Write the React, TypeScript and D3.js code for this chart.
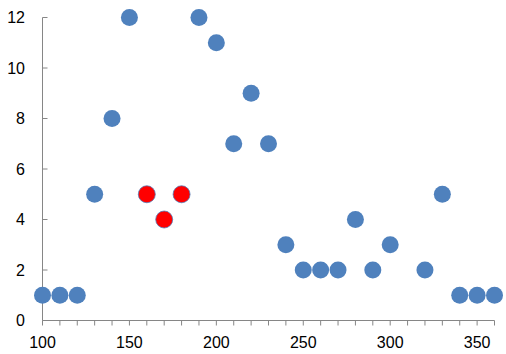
import React, { useEffect, useRef } from 'react'
import * as d3 from 'd3'

// x values and y values of the scatter points
const xValues = [100, 110, 120, 130, 140, 150, 160, 170, 180, 190, 200, 210, 220, 230, 240, 250, 260, 270, 280, 290, 300, 320, 330, 340, 350, 360]
const yValues = [1, 1, 1, 5, 8, 12, 5, 4, 5, 12, 11, 7, 9, 7, 3, 2, 2, 2, 4, 2, 3, 2, 5, 1, 1, 1]
// points drawn in red
const highlighted = [160, 170, 180]
const xTickLabels = [100, 150, 200, 250, 300, 350]
const yTickLabels = [0, 2, 4, 6, 8, 10, 12]

const App = () => {
  const refSvg = useRef<SVGSVGElement>(null)

  useEffect(() => {
    const svg = d3.select(refSvg.current)
    svg.selectAll('*').remove()

    const x = d3.scaleLinear().domain([100, 360]).range([42.5, 494.5])
    const y = d3.scaleLinear().domain([0, 12]).range([320.5, 17.5])
    const axisColor = '#868686'

    // y axis line + inward ticks
    svg.append('line')
      .attr('x1', x(100)).attr('x2', x(100))
      .attr('y1', y(0)).attr('y2', y(12))
      .attr('stroke', axisColor)
    svg.selectAll('.ytick')
      .data(yTickLabels)
      .enter()
      .append('line')
      .attr('x1', x(100)).attr('x2', x(100) + 5)
      .attr('y1', (d) => y(d)).attr('y2', (d) => y(d))
      .attr('stroke', axisColor)
    svg.selectAll('.ylabel')
      .data(yTickLabels)
      .enter()
      .append('text')
      .attr('x', 25)
      .attr('y', (d) => y(d))
      .attr('dy', '0.35em')
      .attr('text-anchor', 'end')
      .attr('font-family', 'Liberation Sans, Arial, sans-serif')
      .attr('font-size', 16)
      .text((d) => d)

    // x axis line + ticks every 10
    svg.append('line')
      .attr('x1', x(100)).attr('x2', x(360))
      .attr('y1', y(0)).attr('y2', y(0))
      .attr('stroke', axisColor)
    svg.selectAll('.xtick')
      .data(d3.range(100, 361, 10))
      .enter()
      .append('line')
      .attr('x1', (d) => x(d)).attr('x2', (d) => x(d))
      .attr('y1', y(0)).attr('y2', y(0) + 5)
      .attr('stroke', axisColor)
    svg.selectAll('.xlabel')
      .data(xTickLabels)
      .enter()
      .append('text')
      .attr('x', (d) => x(d))
      .attr('y', 348)
      .attr('text-anchor', 'middle')
      .attr('font-family', 'Liberation Sans, Arial, sans-serif')
      .attr('font-size', 16)
      .text((d) => d)

    // points
    const pts = xValues.map((v, i) => ({ x: v, y: yValues[i] }))
    svg.selectAll('.pt')
      .data(pts)
      .enter()
      .append('circle')
      .attr('cx', (d) => x(d.x))
      .attr('cy', (d) => y(d.y))
      .attr('r', 8.5)
      .attr('fill', (d) => (highlighted.includes(d.x) ? '#FF0000' : '#4F81BD'))
      .attr('stroke', (d) => (highlighted.includes(d.x) ? '#4A7EBB' : 'none'))
      .attr('stroke-width', 0.75)
  })

  return (
    <svg
      ref={refSvg}
      width={506}
      height={354}
      style={{ position: 'absolute', left: 0, top: 0, background: '#fff' }}
    />
  )
}

export default App
